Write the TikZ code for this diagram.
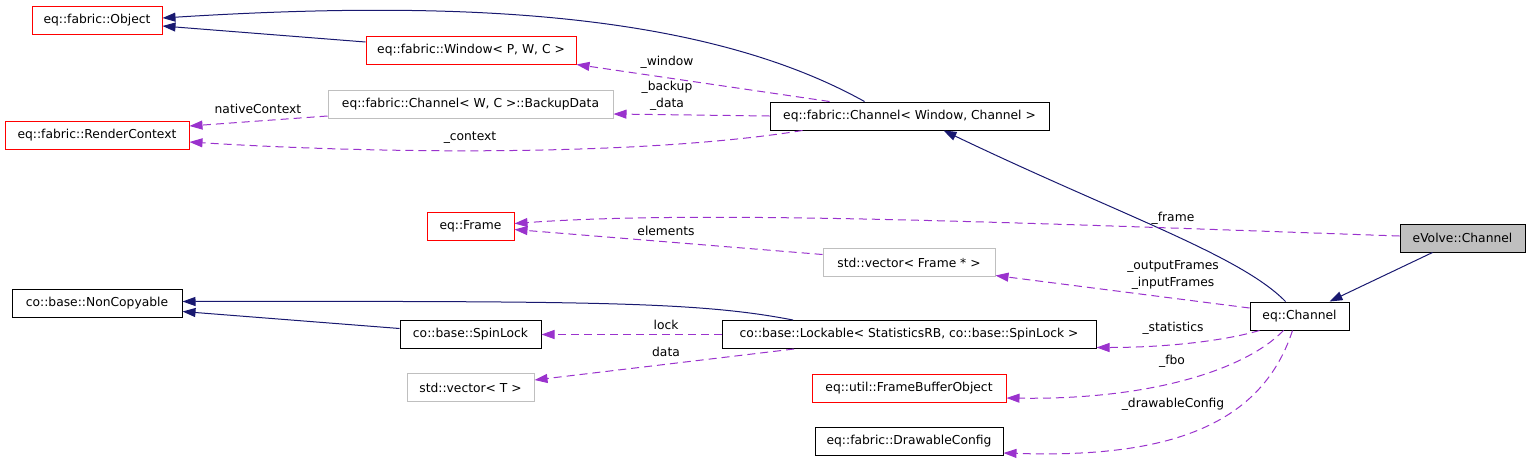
\documentclass[tikz,border=0pt]{standalone}
\usepackage{fontspec}
\setmainfont{DejaVu Sans}
\usetikzlibrary{arrows.meta}
\definecolor{inheritblue}{RGB}{25,25,112}
\definecolor{usepurple}{RGB}{154,50,205}
\definecolor{boxgray}{RGB}{191,191,191}

\begin{document}
\begin{tikzpicture}[x=1pt, y=-1pt,
    font=\fontsize{12.3}{16.8}\selectfont,
    cls/.style={draw=black, line width=1pt, minimum height=28pt, inner sep=0pt},
    redcls/.style={cls, draw=red},
    graycls/.style={cls, draw=boxgray},
    inherit/.style={draw=inheritblue, line width=1pt, -{Triangle[length=13pt,width=9pt]}},
    uses/.style={draw=usepurple, line width=1pt, dash pattern=on 8pt off 5pt, -{Triangle[length=13pt,width=9pt]}},
    lbl/.style={inner sep=0pt, align=center}]
    \useasboundingbox (0,0) rectangle (1531,461);

    % classes
    \node[redcls, minimum width=130pt] (fabobject) at (97,20) {eq::fabric::Object};
    \node[redcls, minimum width=210pt] (fabwindow) at (471,50) {eq::fabric::Window< P, W, C >};
    \node[graycls, minimum width=285pt] (backupdata) at (470.5,104) {eq::fabric::Channel< W, C >::BackupData};
    \node[redcls, minimum width=184pt] (rendercontext) at (97,135) {eq::fabric::RenderContext};
    \node[cls, minimum width=279pt] (fabchannel) at (909.5,116) {eq::fabric::Channel< Window, Channel >};
    \node[redcls, minimum width=87pt] (frame) at (470.5,226.5) {eq::Frame};
    \node[cls, minimum width=170pt] (noncopyable) at (97,303.5) {co::base::NonCopyable};
    \node[cls, minimum width=141pt] (spinlock) at (470.5,334.5) {co::base::SpinLock};
    \node[graycls, minimum width=127pt] (vectort) at (470.5,387.5) {std::vector< T >};
    \node[graycls, minimum width=172pt] (vectorframe) at (909,262.5) {std::vector< Frame * >};
    \node[cls, minimum width=374pt] (lockable) at (909,334.5) {co::base::Lockable< StatisticsRB, co::base::SpinLock >};
    \node[redcls, minimum width=194pt] (fbo) at (909,388) {eq::util::FrameBufferObject};
    \node[cls, minimum width=188pt] (drawableconfig) at (909,441) {eq::fabric::DrawableConfig};
    \node[cls, minimum width=99pt] (eqchannel) at (1299.5,316) {eq::Channel};
    \node[cls, fill=boxgray, minimum width=125pt] (evolvechannel) at (1462.5,238) {eVolve::Channel};

    % inheritance
    \draw[inherit] ([xshift=-45pt]fabchannel.north) .. controls (700,10) and (450,0) .. ([yshift=2pt]fabobject.east);
    \draw[inherit] ([yshift=8pt]fabwindow.west) -- ([yshift=-6pt]fabobject.east);
    \draw[inherit] ([xshift=-14pt]eqchannel.north) .. controls (1240,255) and (1120,215) .. ([xshift=34pt]fabchannel.south);
    \draw[inherit] ([xshift=-30pt]evolvechannel.south) -- ([xshift=30pt]eqchannel.north);
    \draw[inherit] ([xshift=-116pt]lockable.north) .. controls (700,302) and (600,301) .. ([yshift=2pt]noncopyable.east);
    \draw[inherit] ([yshift=6pt]spinlock.west) -- ([yshift=-8pt]noncopyable.east);

    % members
    \draw[uses] ([xshift=-80pt]fabchannel.north) -- (fabwindow.south east);
    \draw[uses] (fabchannel.west) -- ([yshift=-10pt]backupdata.east);
    \draw[uses] ([xshift=-107pt]fabchannel.south) .. controls (650,155) and (400,155) .. ([yshift=-7pt]rendercontext.east);
    \draw[uses] ([yshift=-12pt]backupdata.west) -- ([yshift=9pt]rendercontext.east);
    \draw[uses] ([yshift=2pt]evolvechannel.west) .. controls (1000,222) and (700,210) .. ([yshift=3pt]frame.east);
    \draw[uses] ([yshift=8pt]vectorframe.west) -- ([yshift=-3pt]frame.east);
    \draw[uses] ([yshift=8pt]eqchannel.west) -- ([yshift=-13pt]vectorframe.east);
    \draw[uses] ([xshift=-40pt]eqchannel.south) .. controls (1220,342) and (1160,347.5) .. ([yshift=-13pt]lockable.east);
    \draw[uses] (lockable.west) -- (spinlock.east);
    \draw[uses] ([xshift=-115pt]lockable.south) -- ([yshift=7.5pt]vectort.east);
    \draw[uses] ([xshift=-16pt]eqchannel.south) .. controls (1245,370) and (1150,400) .. ([yshift=-10pt]fbo.east);
    \draw[uses] ([xshift=-7pt]eqchannel.south) .. controls (1260,430) and (1160,458) .. ([yshift=-12pt]drawableconfig.east);

    % member names
    \node[lbl] (lblwindow) at (667,62) {\_window};
    \node[lbl] (lblbackup) at (667,96) {\_backup\\\_data};
    \node[lbl] (lblnative) at (258,109) {nativeContext};
    \node[lbl] (lblcontext) at (470,138) {\_context};
    \node[lbl] (lblframe) at (1173,218) {\_frame};
    \node[lbl] (lblelements) at (666,231) {elements};
    \node[lbl] (lblframes) at (1173,275) {\_outputFrames\\\_inputFrames};
    \node[lbl] (lblstats) at (1173,328) {\_statistics};
    \node[lbl] (lbllock) at (666,325) {lock};
    \node[lbl] (lbldata) at (666,352) {data};
    \node[lbl] (lblfbo) at (1172,361) {\_fbo};
    \node[lbl] (lbldrawable) at (1173,404) {\_drawableConfig};
\end{tikzpicture}
\end{document}
